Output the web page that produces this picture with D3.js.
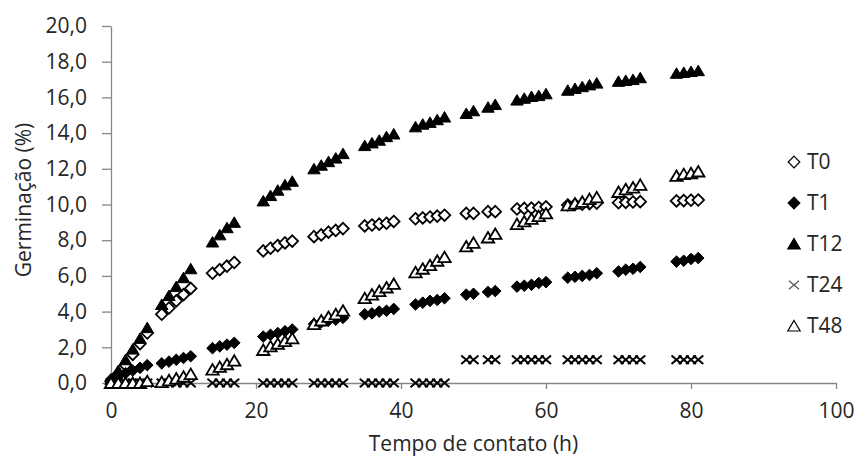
<!DOCTYPE html>
<html>
<head>
<meta charset="utf-8">
<script src="https://cdn.jsdelivr.net/npm/d3@7"></script>
<style>
	body { margin: 0; background: #fff; }
	svg { display: block; font-family: 'Open Sans', sans-serif; }
	.axis path, .axis line { stroke: #868686; stroke-width: 1.3; }
	.axis text { fill: #262626; font-size: 21px; font-family: 'Open Sans', sans-serif; }
	.label { fill: #262626; font-size: 21px; }
</style>
</head>
<body>
<script>
// data
var times = [0, 1, 2, 3, 4, 5, 7, 8, 9, 10, 11, 14, 15, 16, 17, 21, 22, 23, 24, 25,
	28, 29, 30, 31, 32, 35, 36, 37, 38, 39, 42, 43, 44, 45, 46, 49, 50, 52, 53,
	56, 57, 58, 59, 60, 63, 64, 65, 66, 67, 70, 71, 72, 73, 78, 79, 80, 81];

var t0 = [0.1, 0.5, 1.0, 1.6, 2.2, 2.8, 3.85, 4.2, 4.6, 4.95, 5.3, 6.15, 6.35, 6.55, 6.75,
	7.4, 7.55, 7.7, 7.85, 7.95, 8.2, 8.3, 8.45, 8.55, 8.65, 8.8, 8.85, 8.9, 8.95, 9.05,
	9.2, 9.25, 9.3, 9.35, 9.4, 9.5, 9.5, 9.6, 9.6, 9.75, 9.78, 9.8, 9.83, 9.87,
	9.97, 10.0, 10.02, 10.05, 10.08, 10.1, 10.12, 10.14, 10.16, 10.2, 10.22, 10.24, 10.25];

var t1 = [0.2, 0.4, 0.55, 0.7, 0.85, 1.0, 1.1, 1.2, 1.3, 1.4, 1.5, 1.95, 2.05, 2.15, 2.25,
	2.6, 2.7, 2.8, 2.9, 3.0, 3.3, 3.4, 3.5, 3.55, 3.65, 3.85, 3.9, 4.0, 4.05, 4.15,
	4.4, 4.5, 4.6, 4.65, 4.75, 4.95, 5.0, 5.1, 5.15, 5.4, 5.45, 5.5, 5.6, 5.65,
	5.9, 5.95, 6.0, 6.05, 6.15, 6.25, 6.35, 6.4, 6.5, 6.8, 6.85, 6.95, 7.0];

var t12 = [0.2, 0.7, 1.3, 1.9, 2.5, 3.1, 4.4, 4.9, 5.4, 5.9, 6.4, 7.9, 8.3, 8.7, 9.0,
	10.2, 10.5, 10.8, 11.1, 11.3, 12.0, 12.2, 12.4, 12.6, 12.85, 13.3, 13.45, 13.6, 13.8, 13.95,
	14.35, 14.5, 14.6, 14.75, 14.9, 15.1, 15.25, 15.45, 15.6, 15.85, 15.95, 16.05, 16.1, 16.2,
	16.4, 16.5, 16.6, 16.7, 16.8, 16.9, 16.95, 17.0, 17.1, 17.35, 17.4, 17.45, 17.5];

var t24 = [0, 0, 0, 0, 0, 0, 0, 0, 0, 0, 0, 0, 0, 0, 0, 0, 0, 0, 0, 0,
	0, 0, 0, 0, 0, 0, 0, 0, 0, 0, 0, 0, 0, 0, 0, 1.3, 1.3, 1.3, 1.3,
	1.3, 1.3, 1.3, 1.3, 1.3, 1.3, 1.3, 1.3, 1.3, 1.3, 1.3, 1.3, 1.3, 1.3, 1.3, 1.3, 1.3, 1.3];

var t48 = [0, 0, 0, 0, 0, 0.1, 0.05, 0.15, 0.25, 0.35, 0.5, 0.75, 0.9, 1.05, 1.25,
	1.85, 2.05, 2.2, 2.35, 2.5, 3.3, 3.5, 3.7, 3.85, 4.05, 4.75, 4.95, 5.15, 5.35, 5.55,
	6.2, 6.4, 6.6, 6.85, 7.05, 7.65, 7.85, 8.15, 8.35, 8.9, 9.05, 9.2, 9.35, 9.5,
	9.95, 10.05, 10.15, 10.3, 10.4, 10.7, 10.85, 10.95, 11.1, 11.6, 11.7, 11.75, 11.85];

var seriesNames = ['T0', 'T1', 'T12', 'T24', 'T48'];
var seriesValues = [t0, t1, t12, t24, t48];
var xTicks = [0, 20, 40, 60, 80, 100];
var yTicks = [0, 2, 4, 6, 8, 10, 12, 14, 16, 18, 20];

// marker shapes
var shapes = {
	diamond: 'M0,-5.8L5.8,0L0,5.8L-5.8,0Z',
	triangle: 'M0,-5.5L6.2,5L-6.2,5Z',
	cross: 'M-5,-4.2L5,4.2M-5,4.2L5,-4.2'
};
var styles = [
	{ shape: 'diamond', fill: '#fff', stroke: '#000', sw: 1.8 },
	{ shape: 'diamond', fill: '#000', stroke: '#000', sw: 1 },
	{ shape: 'triangle', fill: '#000', stroke: '#000', sw: 1 },
	{ shape: 'cross', fill: 'none', stroke: '#000', sw: 2 },
	{ shape: 'triangle', fill: '#fff', stroke: '#000', sw: 1.8 }
];

// chart
var W = 859, H = 457;
var margin = { top: 26, right: 23, bottom: 74, left: 111 };

var svg = d3.select('body').append('svg')
	.attr('width', W)
	.attr('height', H);

var x = d3.scaleLinear().domain([0, 100]).range([margin.left, W - margin.right]);
var y = d3.scaleLinear().domain([0, 20]).range([H - margin.bottom, margin.top]);

var fmt = function (d) { return d3.format('.1f')(d).replace('.', ','); };

svg.append('g')
	.attr('class', 'x axis')
	.attr('transform', 'translate(0,' + y(0) + ')')
	.call(d3.axisBottom(x).tickValues(xTicks).tickSize(6).tickSizeOuter(0).tickPadding(14));

svg.append('g')
	.attr('class', 'y axis')
	.attr('transform', 'translate(' + x(0) + ',0)')
	.call(d3.axisLeft(y).tickValues(yTicks).tickFormat(fmt).tickSize(9).tickSizeOuter(0).tickPadding(15));

// axis titles
svg.append('text')
	.attr('class', 'label')
	.attr('x', (x(0) + x(100)) / 2)
	.attr('y', 451)
	.attr('text-anchor', 'middle')
	.text('Tempo de contato (h)');

svg.append('text')
	.attr('class', 'label')
	.attr('transform', 'translate(31,' + 200 + ') rotate(-90)')
	.attr('text-anchor', 'middle')
	.text('Germinação (%)');

// points
seriesValues.forEach(function (vals, i) {
	var st = styles[i];
	svg.append('g')
		.selectAll('path')
		.data(vals.map(function (v, j) { return { t: times[j], v: v }; }))
		.enter()
		.append('path')
		.attr('d', shapes[st.shape])
		.attr('transform', function (d) { return 'translate(' + x(d.t) + ',' + y(d.v) + ')'; })
		.attr('fill', st.fill)
		.attr('stroke', st.stroke)
		.attr('stroke-width', st.sw);
});

// legend
var legend = svg.append('g').attr('transform', 'translate(794,162)');
seriesNames.forEach(function (name, i) {
	var st = styles[i];
	var g = legend.append('g').attr('transform', 'translate(0,' + (i * 41) + ')');
	g.append('path')
		.attr('d', shapes[st.shape])
		.attr('fill', st.fill)
		.attr('stroke', i === 3 ? '#555' : st.stroke)
		.attr('stroke-width', st.shape === 'cross' ? 1.2 : 1.2);
	g.append('text')
		.attr('class', 'label')
		.attr('x', 13)
		.attr('dy', '0.35em')
		.text(name);
});
</script>
</body>
</html>
